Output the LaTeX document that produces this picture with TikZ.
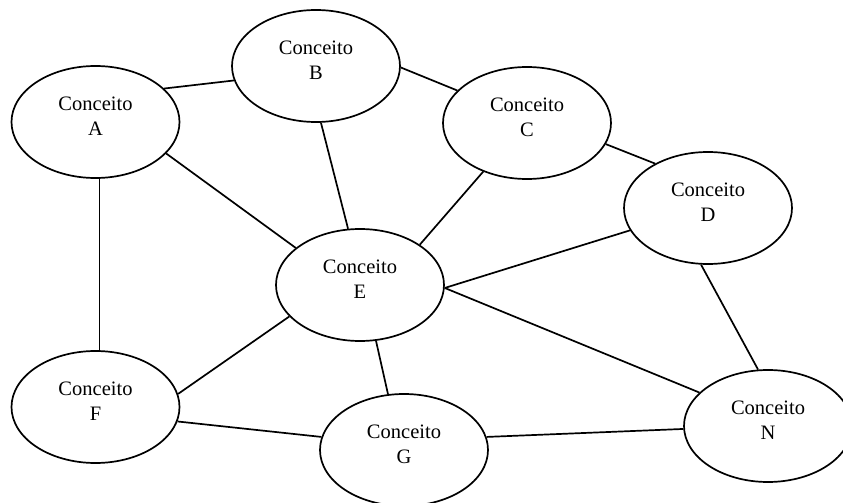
\documentclass[tikz,border=0pt]{standalone}
\usepackage{fontspec}
\setmainfont{Liberation Serif}
\usetikzlibrary{shapes.geometric}
\tikzset{
  concept/.style={ellipse, draw=black, line width=1.7pt, minimum width=168pt, minimum height=112pt, inner sep=0pt},
  txt/.style={align=center, inner sep=0pt, font=\fontsize{20.5}{25}\selectfont},
  link/.style={draw=black, line width=1.7pt}
}
\begin{document}
\begin{tikzpicture}[x=1pt,y=-1pt]
\useasboundingbox (0,0) rectangle (843,503);
\node[concept] (A) at (95.5,122) {};
\node[concept] (B) at (316,66) {};
\node[concept] (C) at (527,123) {};
\node[concept] (D) at (708,208) {};
\node[concept] (E) at (360,285) {};
\node[concept] (F) at (95.5,407) {};
\node[concept] (G) at (404,450) {};
\node[concept] (N) at (768,426) {};
\foreach \n in {A,B,C,D,E,F,G,N}{
  \node[txt] (\n t) at ([yshift=6pt]\n.center) {Conceito\\\n};
}
\draw[link] (A.26) -- (B.190);
\draw[link] (B.-1) -- (C.155);
\draw[link] (A.-24) -- (E.150);
\draw[link] (B.-85) -- (E.102);
\draw[link] (C.-132) -- (E.34);
\draw[link] (C.-15.5) -- (D.140);
\draw[link] (E.-2) -- (D.-164);
\draw[link] (E.-2) -- (N.154);
\draw[link] (D.-97) -- (N.100);
\draw[link] (A.-86) -- (F.86);
\draw[link] (F.9) -- (E.-156);
\draw[link] (F.-10) -- (G.171);
\draw[link] (E.-74) -- (G.106);
\draw[link] (G.9) -- (N.182);
\end{tikzpicture}
\end{document}
